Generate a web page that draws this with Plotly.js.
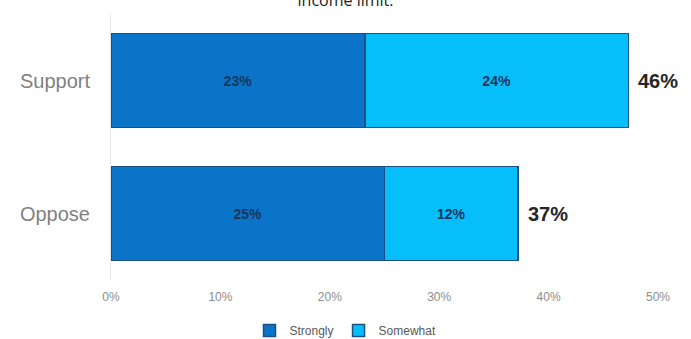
<!DOCTYPE html>
<html>
<head>
<meta charset="utf-8">
<script src="https://cdn.plot.ly/plotly-3.0.1.min.js"></script>
<style>html,body{margin:0;padding:0;background:#fff;}#chart{width:691px;height:339px;}</style>
</head>
<body>
<div id="chart"></div>
<script>
const categories = ["Oppose", "Support"];
const strongly = [25.0, 23.2];
const somewhat = [12.2, 24.1];
const stronglyLabels = ["25%", "23%"];
const somewhatLabels = ["12%", "24%"];
const totalLabels = ["37%", "46%"];
const xTicks = [0, 10, 20, 30, 40, 50];
const xTickLabels = ["0%", "10%", "20%", "30%", "40%", "50%"];

const barLine = {color: "#1c4f86", width: 1.5};
const traces = [
  {
    type: "bar", orientation: "h", name: "Strongly",
    y: categories, x: strongly, text: stronglyLabels.map(t => "<b>" + t + "</b>"),
    textposition: "inside", insidetextanchor: "middle",
    textfont: {family: "Liberation Sans, Arial", size: 14, color: "#17365d"},
    marker: {color: "#0a74c8", line: barLine},
    hoverinfo: "skip"
  },
  {
    type: "bar", orientation: "h", name: "Somewhat",
    y: categories, x: somewhat, text: somewhatLabels.map(t => "<b>" + t + "</b>"),
    textposition: "inside", insidetextanchor: "middle",
    textfont: {family: "Liberation Sans, Arial", size: 14, color: "#17365d"},
    marker: {color: "#06befa", line: barLine},
    hoverinfo: "skip"
  }
];

const annotations = categories.map((c, i) => ({
  x: strongly[i] + somewhat[i], y: c, xref: "x", yref: "y",
  text: "<b>" + totalLabels[i] + "</b>", showarrow: false,
  xanchor: "left", xshift: 8,
  font: {family: "Liberation Sans, Arial", size: 20, color: "#262626"}
}));

const layout = {
  width: 691, height: 339,
  margin: {l: 111, r: 33, t: 14, b: 59, autoexpand: false},
  paper_bgcolor: "#ffffff", plot_bgcolor: "#ffffff",
  barmode: "stack", bargap: 0.29,
  showlegend: true,
  legend: {orientation: "h", traceorder: "normal", x: 0.5, xanchor: "center", xref: "container",
    y: 0.025, yanchor: "middle", yref: "container",
    font: {family: "Liberation Sans, Arial", size: 12, color: "#595959"},
    itemwidth: 30, tracegroupgap: 0},
  title: {text: "income limit.", x: 0.5, xanchor: "center", y: 1, yref: "container", yanchor: "middle",
    font: {family: "Open Sans, Liberation Sans", size: 16, color: "#222"}},
  xaxis: {range: [0, 50], tickvals: xTicks, ticktext: xTickLabels,
    showgrid: false, zeroline: false, showline: false, ticks: "", ticklabelstandoff: 8,
    tickfont: {family: "Liberation Sans, Arial", size: 12, color: "#8c8c8c"},
    fixedrange: true},
  yaxis: {showgrid: false, zeroline: false, showline: true, linecolor: "#e6e6e6", linewidth: 1,
    ticks: "", ticklabelstandoff: 16,
    tickfont: {family: "Liberation Sans, Arial", size: 20, color: "#7f7f7f"},
    fixedrange: true},
  annotations: annotations
};

Plotly.newPlot("chart", traces, layout, {displayModeBar: false, staticPlot: true});
</script>
</body>
</html>
